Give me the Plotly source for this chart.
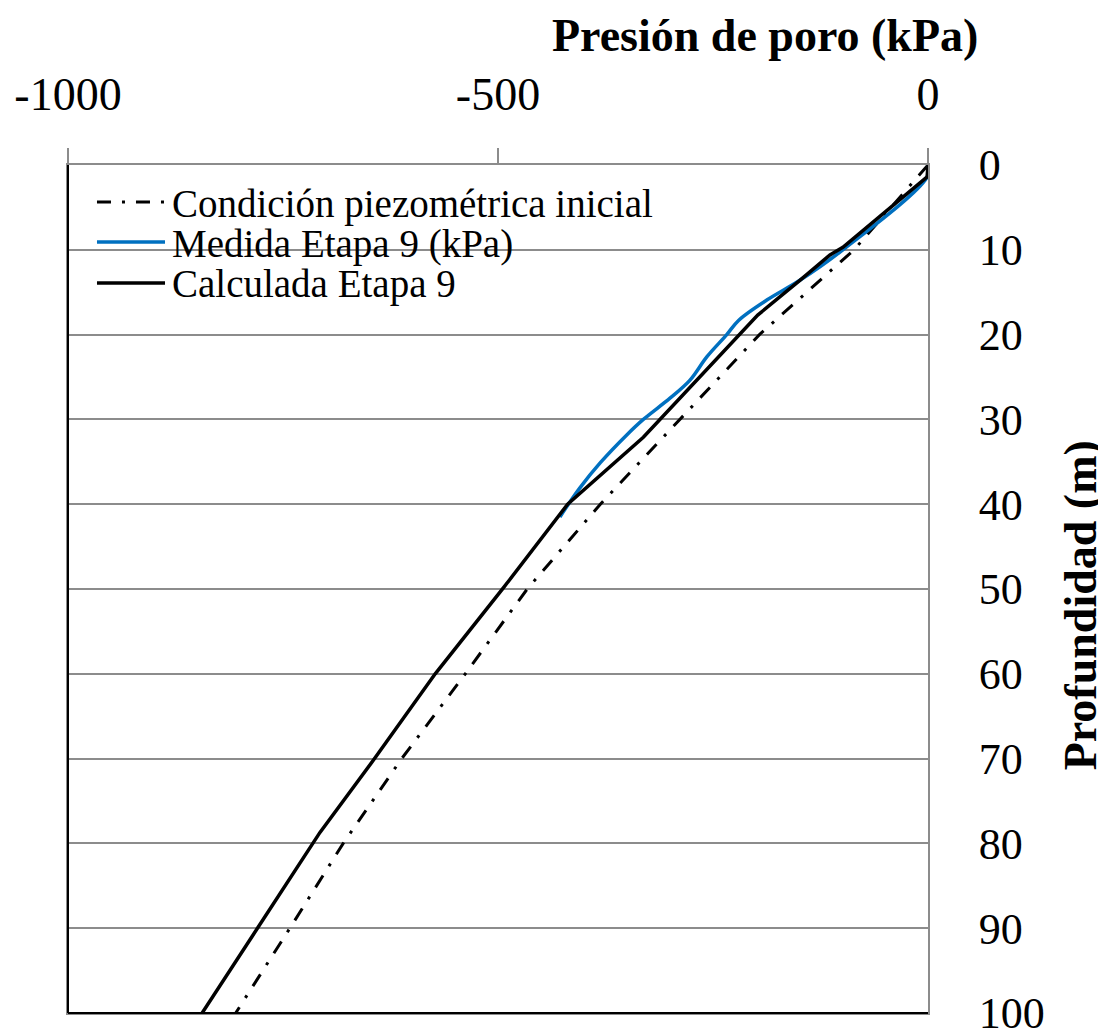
import plotly.graph_objects as go

# Depth (m) and pore pressure (kPa)
depth_inicial = [0, 10, 20, 30, 40, 50, 60, 70, 80, 90, 100]
pres_inicial = [0, -86, -196, -288, -381, -466, -538, -612, -680, -742, -805]

depth_medida = [0, 1.4, 10, 13.6, 15.9, 18.3, 20, 22.6, 25.4, 27.5, 30, 31.8, 35.1, 38.1, 41.5]
pres_medida = [0, -1, -99, -149, -187, -220, -234, -257, -277, -300, -331, -350, -381, -405, -428]

depth_calc = [0, 1.4, 9.7, 10.6, 13.6, 17.7, 32.1, 40, 49.9, 60, 70.2, 78.7, 100]
pres_calc = [0, -1, -99, -114, -149, -198, -331, -419, -494, -573, -645, -707, -844]

series_names = ["Condición piezométrica inicial", "Medida Etapa 9 (kPa)", "Calculada Etapa 9"]
series_colors = ["black", "#0070C0", "black"]
series_dash = ["14px,11px,3px,11px", "solid", "solid"]

x_ticks = [-1000, -500, 0]
y_ticks = [0, 10, 20, 30, 40, 50, 60, 70, 80, 90, 100]

FONT = "Liberation Serif"
GRID = "#8c8c8c"

fig = go.Figure()
fig.add_trace(go.Scatter(x=pres_inicial, y=depth_inicial, mode="lines",
                         name=series_names[0],
                         line=dict(color=series_colors[0], width=3, dash=series_dash[0])))
fig.add_trace(go.Scatter(x=pres_medida, y=depth_medida, mode="lines",
                         name=series_names[1],
                         line=dict(color=series_colors[1], width=3.5, shape="spline", smoothing=1.0)))
fig.add_trace(go.Scatter(x=pres_calc, y=depth_calc, mode="lines",
                         name=series_names[2],
                         line=dict(color=series_colors[2], width=3.5)))

# Custom legend (box, sample lines, labels) in paper coordinates
shapes = [
    dict(type="rect", xref="paper", yref="paper", x0=0.023, x1=0.688, y0=0.835, y1=0.994,
         fillcolor="white", line=dict(width=0), layer="below"),
    dict(type="line", xref="paper", yref="paper", x0=0, x1=0, y0=0, y1=1,
         line=dict(color="black", width=2)),
    dict(type="line", xref="paper", yref="paper", x0=0, x1=1, y0=0, y1=0,
         line=dict(color="black", width=2)),
]
annotations = []
leg_line_y = [0.9564, 0.9092, 0.8608]
leg_text_y = [0.9545, 0.9065, 0.8600]
for i, name in enumerate(series_names):
    shapes.append(dict(type="line", xref="paper", yref="paper", x0=0.0337, x1=0.1128,
                       y0=leg_line_y[i], y1=leg_line_y[i],
                       line=dict(color=series_colors[i], width=3 if i == 0 else 3.5,
                                 dash=series_dash[i])))
    annotations.append(dict(text=name, xref="paper", yref="paper", x=0.119, y=leg_text_y[i],
                            xanchor="left", yanchor="middle", showarrow=False,
                            font=dict(family=FONT, size=39, color="black")))

annotations += [
    dict(text="<b>Presión de poro (kPa)</b>", xref="paper", yref="paper",
         x=0.81, y=1.153, xanchor="center", yanchor="middle", showarrow=False,
         font=dict(family=FONT, size=46, color="black")),
    dict(text="<b>Profundidad (m)</b>", xref="paper", yref="paper",
         x=1.177, y=0.481, xanchor="center", yanchor="middle", showarrow=False,
         textangle=-90, font=dict(family=FONT, size=46, color="black")),
]

fig.update_layout(
    width=1098, height=1024,
    margin=dict(l=60, r=178, t=157, b=19, autoexpand=False),
    paper_bgcolor="white", plot_bgcolor="white",
    font=dict(family=FONT, color="black"),
    showlegend=False,
    xaxis=dict(range=[-1000, 0], side="top", tickvals=x_ticks,
               ticktext=[str(v) for v in x_ticks],
               showgrid=False, zeroline=False,
               showline=True, linecolor=GRID, linewidth=2, mirror=True,
               ticks="outside", ticklen=15, tickcolor=GRID, tickwidth=2,
               tickfont=dict(family=FONT, size=46, color="black"),
               ticklabelstandoff=20, ticklabeloverflow="allow"),
    yaxis=dict(range=[100, 0], side="right", tickvals=y_ticks,
               showgrid=True, gridcolor=GRID, gridwidth=2, zeroline=False,
               showline=True, linecolor=GRID, linewidth=2, mirror=True,
               ticks="", tickfont=dict(family=FONT, size=44, color="black"),
               ticklabelstandoff=40, ticklabeloverflow="allow"),
    shapes=shapes,
    annotations=annotations,
)

fig.write_html("out.html")
